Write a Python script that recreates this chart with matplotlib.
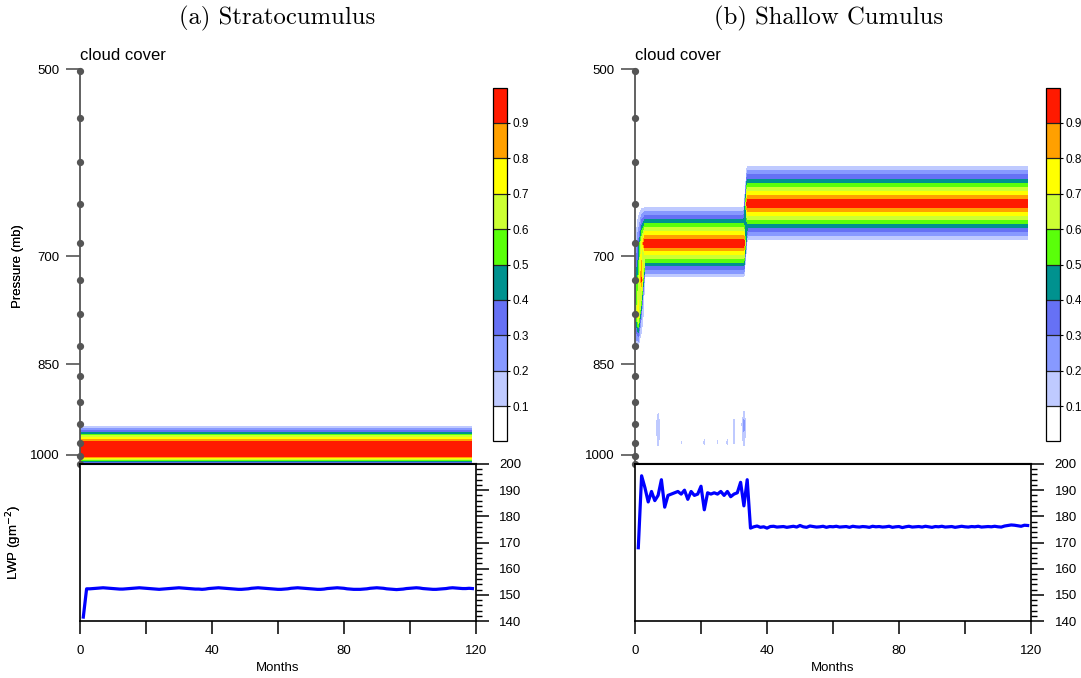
import numpy as np
import matplotlib
matplotlib.use("Agg")
import matplotlib.pyplot as plt
from matplotlib.ticker import FixedLocator, MultipleLocator, NullLocator, FixedFormatter

plt.rcParams['font.family'] = ['Liberation Sans', 'DejaVu Sans']

# ---------------- data ----------------
# model level pressures (hPa), shown as dots on the pressure axis
levels_p = [501.8, 546, 591, 637, 684, 731, 777, 823, 868, 910, 947, 978.5, 1003, 1017]
months_cloud = list(range(0, 120))
months_lwp = list(range(1, 120))

cf_bounds = [0.0, 0.1, 0.2, 0.3, 0.4, 0.5, 0.6, 0.7, 0.8, 0.9, 1.0]
cf_ticks = [0.1, 0.2, 0.3, 0.4, 0.5, 0.6, 0.7, 0.8, 0.9]
cf_tick_labels = ["0.1", "0.2", "0.3", "0.4", "0.5", "0.6", "0.7", "0.8", "0.9"]
cf_colors = ["#ffffff", "#bfcaff", "#8799ff", "#6671f5", "#00928f",
             "#5aff0a", "#ccff33", "#ffff00", "#ffa000", "#ff1a00"]

p_ticks = [500, 700, 850, 1000]
p_tick_labels = ["500", "700", "850", "1000"]
month_ticks = [0, 20, 40, 60, 80, 100, 120]
month_tick_labels = ["0", "", "40", "", "80", "", "120"]

# (a) Stratocumulus: cloud fraction profile (constant in time)
sc_profile = [0, 0, 0, 0, 0, 0, 0, 0, 0, 0, 0, 1.0, 1.0, 0.15]

# (b) Shallow cumulus: cloud fraction profiles
cu_t0 = [0, 0, 0, 0, 0.10, 0.40, 0.45, 0.12, 0, 0, 0, 0, 0, 0]
cu_t1 = [0, 0, 0, 0, 0.30, 0.55, 0.80, 0.08, 0, 0, 0, 0, 0, 0]
cu_t2 = [0, 0, 0, 0.02, 0.70, 0.92, 0.20, 0, 0, 0, 0, 0, 0, 0]
cu_band1 = [0, 0, 0, 0.0, 1.0, 0.0, 0, 0, 0, 0, 0, 0, 0, 0]     # months 3-33
cu_band2 = [0, 0, 0.0, 1.0, 0.0, 0, 0, 0, 0, 0, 0, 0, 0, 0]     # months 34-119
cu_band1_months = (3, 33)
cu_speck_months = [7, 14, 21, 25, 28, 30, 33]
cu_speck_l11 = [0.20, 0.0, 0.0, 0.0, 0.0, 0.13, 0.25]
cu_speck_l12 = [0.13, 0.105, 0.12, 0.11, 0.12, 0.11, 0.13]

# LWP (g m-2)
lwp_sc = [141.5, 152.3, 152.3, 152.4, 152.5, 152.6, 152.7, 152.6, 152.5, 152.4, 152.3, 152.2,
          152.2, 152.3, 152.4, 152.5, 152.6, 152.7, 152.6, 152.5, 152.4, 152.3, 152.2, 152.1,
          152.2, 152.3, 152.4, 152.5, 152.6, 152.7, 152.6, 152.5, 152.4, 152.3, 152.2, 152.2,
          152.1, 152.2, 152.4, 152.5, 152.6, 152.7, 152.6, 152.5, 152.4, 152.3, 152.2, 152.1,
          152.1, 152.2, 152.3, 152.5, 152.6, 152.7, 152.6, 152.5, 152.4, 152.3, 152.2, 152.1,
          152.1, 152.2, 152.3, 152.5, 152.6, 152.7, 152.6, 152.5, 152.4, 152.3, 152.2, 152.1,
          152.1, 152.2, 152.4, 152.5, 152.6, 152.7, 152.6, 152.5, 152.3, 152.2, 152.1, 152.1,
          152.1, 152.2, 152.3, 152.5, 152.6, 152.7, 152.6, 152.5, 152.3, 152.2, 152.1, 152.0,
          152.1, 152.2, 152.4, 152.5, 152.6, 152.7, 152.6, 152.4, 152.3, 152.2, 152.1, 152.1,
          152.2, 152.3, 152.4, 152.6, 152.7, 152.6, 152.5, 152.4, 152.4, 152.5, 152.4]
lwp_cu = [168.0, 195.5, 191.0, 185.5, 189.5, 186.0, 188.0, 194.0, 183.5, 188.0, 188.5, 189.0,
          189.5, 188.5, 190.0, 186.5, 189.5, 188.0, 188.5, 191.5, 182.5, 189.0, 188.5, 189.0,
          188.5, 189.5, 188.0, 189.5, 187.5, 188.5, 189.0, 193.0, 184.0, 194.0, 175.5, 176.0,
          176.3, 175.8, 176.0, 175.5, 176.1, 176.2, 175.9, 176.0, 176.1, 175.8, 176.0, 176.2,
          175.9, 176.5, 176.0, 175.8, 176.3, 176.1, 175.9, 176.0, 176.2, 175.8, 176.1, 176.0,
          176.2, 175.9, 176.0, 176.1, 175.8, 176.2, 176.0, 175.9, 176.1, 176.0, 175.8, 176.2,
          176.0, 176.1, 175.9, 176.0, 176.2, 175.8, 176.0, 176.1, 175.7, 176.0, 176.2, 175.9,
          176.0, 176.1, 175.9, 176.2, 176.0, 175.8, 176.1, 176.0, 176.2, 175.9, 176.0, 176.1,
          175.8, 176.0, 176.2, 176.0, 175.9, 176.1, 176.0, 176.2, 175.9, 176.0, 176.1, 176.0,
          176.2, 176.0, 175.9, 176.3, 176.5, 176.7, 176.6, 176.4, 176.2, 176.6, 176.5]

# ---------------- build fields ----------------
lev = np.array(levels_p)
sc_field = np.tile(np.array(sc_profile, float)[:, None], (1, len(months_cloud)))

cols = [cu_t0, cu_t1, cu_t2]
for m in months_cloud[3:]:
    cols.append(cu_band1 if cu_band1_months[0] <= m <= cu_band1_months[1] else cu_band2)
cu_field = np.array(cols, float).T
for m, a, b in zip(cu_speck_months, cu_speck_l11, cu_speck_l12):
    cu_field[10, m] = max(cu_field[10, m], a)
    cu_field[11, m] = max(cu_field[11, m], b)

# ---------------- figure ----------------
W, H = 1081, 678
fig = plt.figure(figsize=(W / 100, H / 100), dpi=100)


def fx(px):
    return px / W


def fy(py):
    return 1 - py / H


FS = 9.5
gray = "#555555"


def make_panel(x0, x1, cbx, field, lwp, title, title_cx):
    top, mid, bot = 69, 464, 621
    ax = fig.add_axes([fx(x0), fy(mid), fx(x1 - x0), fy(top) - fy(mid)])
    cs = ax.contourf(months_cloud, lev, field, levels=cf_bounds, colors=cf_colors)
    ax.set_yscale('log')
    ax.set_ylim(1017, 500)
    ax.set_xlim(0, 120)
    ax.yaxis.set_major_locator(FixedLocator(p_ticks))
    ax.yaxis.set_major_formatter(FixedFormatter(p_tick_labels))
    ax.yaxis.set_minor_locator(NullLocator())
    ax.set_xticks([])
    ax.tick_params(axis='y', direction='out', length=10, width=1.2, color=gray,
                   labelsize=FS, pad=5)
    for s in ['top', 'right']:
        ax.spines[s].set_visible(False)
    ax.spines['left'].set_color(gray)
    ax.spines['left'].set_linewidth(1.3)
    ax.spines['bottom'].set_linewidth(1.5)
    ax.plot([0] * len(lev), lev, 'o', color=gray, ms=4.2, clip_on=False, zorder=6)
    ax.set_ylabel("Pressure (mb)", fontsize=FS)
    ax.yaxis.set_label_coords((24 - x0) / (x1 - x0), 0.5)
    fig.text(fx(x0), fy(55), "cloud cover", fontsize=12, va='center', ha='left')
    fig.text(fx(title_cx), fy(18), title, fontsize=17.8, family='cmr10',
             ha='center', va='center')

    cax = fig.add_axes([fx(cbx), fy(441.4), fx(14), fy(87.6) - fy(441.4)])
    cb = fig.colorbar(cs, cax=cax, ticks=cf_ticks, drawedges=True)
    cb.ax.set_yticklabels(cf_tick_labels)
    cb.ax.tick_params(labelsize=8.5, length=2.5, width=0.8, pad=1.5)
    cb.outline.set_linewidth(0.9)
    cb.dividers.set_linewidth(0.9)
    cb.dividers.set_color('#222222')

    ax2 = fig.add_axes([fx(x0), fy(bot), fx(x1 - x0), fy(mid) - fy(bot)])
    ax2.plot(months_lwp, lwp, color='#0000ff', lw=2.3, solid_joinstyle='round')
    ax2.set_xlim(0, 120)
    ax2.set_ylim(140, 200)
    ax2.yaxis.tick_right()
    ax2.yaxis.set_major_locator(MultipleLocator(10))
    ax2.yaxis.set_minor_locator(MultipleLocator(2))
    ax2.xaxis.set_major_locator(FixedLocator(month_ticks))
    ax2.xaxis.set_major_formatter(FixedFormatter(month_tick_labels))
    ax2.tick_params(axis='both', which='major', direction='out', length=9, width=1.1,
                    labelsize=FS, pad=8)
    ax2.tick_params(axis='y', which='minor', direction='out', length=4.5, width=1.0)
    for s in ax2.spines.values():
        s.set_linewidth(1.2)
    ax2.spines['top'].set_linewidth(1.5)
    ax2.set_ylabel(r"LWP (gm$^{-2}$)", fontsize=FS)
    ax2.yaxis.set_label_position('left')
    ax2.yaxis.set_label_coords((24 - x0) / (x1 - x0), 0.5)
    ax2.set_xlabel("Months", fontsize=FS, labelpad=4)
    return ax, ax2


make_panel(80, 475.7, 493, sc_field, lwp_sc, "(a) Stratocumulus", 277.5)
make_panel(635, 1031, 1046, cu_field, lwp_cu, "(b) Shallow Cumulus", 828.5)

fig.savefig("out.png", dpi=100)
